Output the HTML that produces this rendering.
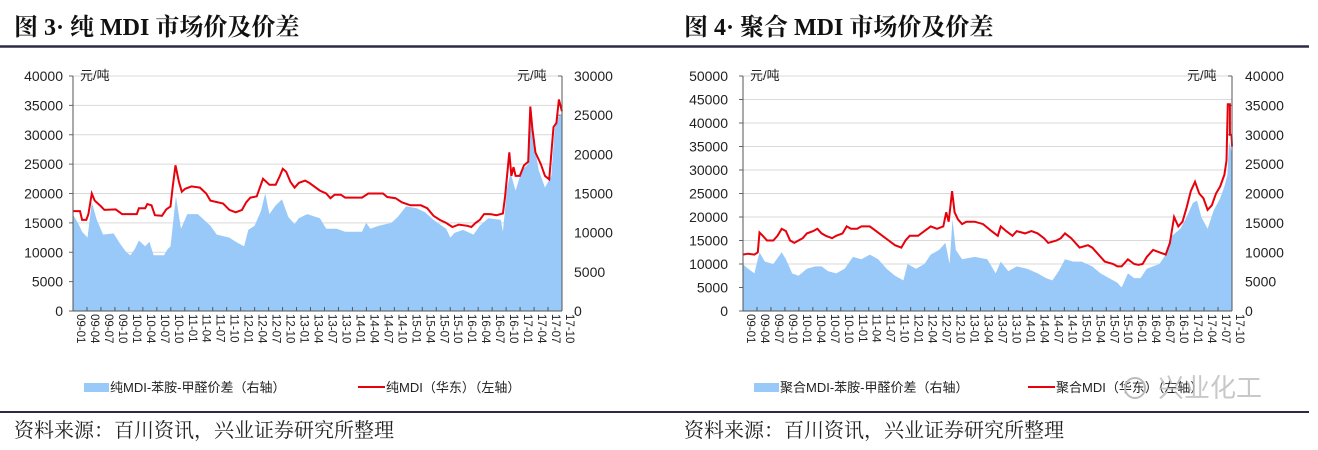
<!DOCTYPE html>
<html><head><meta charset="utf-8">
<style>
html,body{margin:0;padding:0;background:#fff;}
body{width:1318px;height:450px;overflow:hidden;position:relative;font-family:"Liberation Sans","Noto Sans CJK SC",sans-serif;}
svg{position:absolute;left:0;top:0;}
</style></head><body>
<svg id="s" width="1318" height="450" xmlns="http://www.w3.org/2000/svg">
<line x1="0" y1="46.5" x2="660" y2="46.5" stroke="#2b2b45" stroke-width="2.5"/>
<line x1="660" y1="46.5" x2="1309" y2="46.5" stroke="#2b2b45" stroke-width="2.5"/>
<line x1="0" y1="412" x2="660" y2="412" stroke="#2b2b45" stroke-width="2"/>
<line x1="660" y1="412" x2="1309" y2="412" stroke="#2b2b45" stroke-width="2"/>
<text x="14" y="35" font-family="Liberation Serif,'Noto Serif CJK SC',serif" font-size="24" font-weight="bold" fill="#111">图 3· 纯 MDI 市场价及价差</text>
<text x="684" y="35" font-family="Liberation Serif,'Noto Serif CJK SC',serif" font-size="24" font-weight="bold" fill="#111">图 4· 聚合 MDI 市场价及价差</text>
<text x="14" y="437" font-family="'Noto Serif CJK SC',serif" font-size="20" fill="#222">资料来源：百川资讯，兴业证券研究所整理</text>
<text x="684" y="437" font-family="'Noto Serif CJK SC',serif" font-size="20" fill="#222">资料来源：百川资讯，兴业证券研究所整理</text>
<g id="c1"></g><g id="c2"></g>
<text x="1158" y="397" font-family="'Noto Sans CJK SC',sans-serif" font-size="26" fill="#bbb" opacity="0.8">兴业化工</text>
<circle cx="1135" cy="388" r="10" fill="none" stroke="#bbb" stroke-width="2"/>
</svg>
<script>
var NS="http://www.w3.org/2000/svg";
function el(g,t,a,txt){var e=document.createElementNS(NS,t);for(var k in a)e.setAttribute(k,a[k]);if(txt!==undefined)e.textContent=txt;g.appendChild(e);return e;}
function chart(gid,off,fx,L,R,lmax,lstep,rmax,rstep,lx,rx,red,blue,leg1,leg2){
 var g=document.getElementById(gid),T=76,B=311,H=B-T;
 function X(zx){return off+zx/fx;}
 function Y(v){return B-v/lmax*H;}
 for(var v=0;v<=lmax;v+=lstep){var y=Y(v);
  if(v>0)el(g,"line",{x1:L,x2:R,y1:y,y2:y,stroke:"#d9d9d9","stroke-width":1});
  el(g,"line",{x1:L-4,x2:L,y1:y,y2:y,stroke:"#666"});
  el(g,"text",{x:lx,y:y+5,"text-anchor":"end","font-size":14,fill:"#222"},v);}
 for(var v=0;v<=rmax;v+=rstep){var y=B-v/rmax*H;
  el(g,"line",{x1:R-4,x2:R,y1:y,y2:y,stroke:"#666"});
  el(g,"text",{x:rx,y:y+5,"font-size":14,fill:"#222"},v);}
 var d="M"+X(blue[0])+","+B;
 for(var i=0;i<blue.length;i+=2)d+=" L"+X(blue[i]).toFixed(1)+","+Y(blue[i+1]).toFixed(1);
 d+=" L"+X(blue[blue.length-2])+","+B+" Z";
 el(g,"path",{d:d,fill:"#99c9f8"});
 var p="";
 for(var i=0;i<red.length;i+=2)p+=(i?" L":"M")+X(red[i]).toFixed(1)+","+Y(red[i+1]).toFixed(1);
 el(g,"path",{d:p,fill:"none",stroke:"#e8000b","stroke-width":2});
 el(g,"line",{x1:L,x2:L,y1:T,y2:B,stroke:"#555"});
 el(g,"line",{x1:R,x2:R,y1:T,y2:B,stroke:"#555"});
 el(g,"line",{x1:L,x2:R,y1:B,y2:B,stroke:"#555"});
 el(g,"text",{x:L+7,y:T+4,"font-size":13,fill:"#222"},"元/吨");
 el(g,"text",{x:R-45,y:T+4,"font-size":13,fill:"#222"},"元/吨");
 var labs=[];for(var yr=9;yr<=17;yr++)for(var m of ["01","04","07","10"]){labs.push((yr<10?"0":"")+yr+"-"+m);}
 var n=labs.length;
 for(var i=0;i<n;i++){var x=L+i*(R-L)/(n-1);
  el(g,"line",{x1:x,x2:x,y1:B-4,y2:B,stroke:"#555"});
  el(g,"text",{x:0,y:0,transform:"translate("+(x+4)+","+(B+3)+") rotate(90)","font-size":11.5,fill:"#222","text-anchor":"start"},labs[i]);}
 el(g,"rect",{x:L+11,y:383,width:25,height:9,fill:"#99c9f8"});
 el(g,"text",{x:L+37,y:392,"font-size":13,fill:"#222"},leg1);
 el(g,"line",{x1:L+285,x2:L+312,y1:387,y2:387,stroke:"#e8000b","stroke-width":2});
 el(g,"text",{x:L+313,y:392,"font-size":13,fill:"#222"},leg2);
}
var r1=[173,17000,190,17000,195,15500,205,15500,210,16500,218,20000,225,18800,240,17800,248,17200,275,17300,290,16500,300,16500,325,16500,330,17500,345,17500,350,18200,360,18000,368,16300,385,16200,395,17300,405,17800,410,21000,417,24800,425,22000,432,20300,440,20800,455,21200,475,21000,490,20000,500,18800,530,18300,545,17200,560,16800,575,17200,585,18500,595,19300,610,19500,625,22500,640,21500,655,21500,665,23000,672,24200,680,23700,690,22000,700,21000,710,21800,725,22200,735,21800,760,20500,775,20000,785,19200,795,19800,810,19800,820,19300,860,19300,875,20000,910,20000,920,19400,940,19200,955,18500,975,18000,1000,18000,1015,17500,1030,16200,1045,15500,1060,15000,1075,14300,1090,14700,1110,14500,1120,14300,1130,15000,1140,15500,1150,16500,1165,16500,1180,16300,1195,16600,1200,19500,1210,27000,1215,23000,1220,24500,1225,23000,1235,23000,1245,24800,1255,25400,1260,34800,1265,31000,1272,27000,1285,25000,1295,23000,1305,22400,1315,31300,1322,32000,1328,36000,1335,34000];
var b1=[173,16500,185,15000,195,13500,208,12500,218,18500,230,15500,245,13000,270,13200,285,11500,300,10000,310,9500,320,10500,330,12000,345,11000,355,11800,365,9500,390,9500,398,10500,405,11000,418,19500,430,14000,445,16500,470,16500,485,15500,500,14500,515,13000,545,12500,560,11800,580,11000,590,13800,605,14500,620,17000,630,20000,640,16500,655,18000,670,19000,685,16000,700,14800,710,15800,730,16500,760,15800,775,14000,800,14000,820,13500,860,13500,870,15000,880,14000,900,14500,930,15000,945,16000,965,17800,990,17500,1010,16800,1030,15500,1060,14000,1070,12500,1080,13300,1100,13800,1125,13000,1140,14500,1160,15800,1190,15500,1195,13500,1205,21000,1213,23500,1225,20500,1240,24000,1255,25000,1262,35000,1270,28000,1280,24000,1295,21000,1310,23000,1318,31000,1326,33000,1335,33500];
var r2=[197,12000,210,12200,225,12000,233,12500,237,16700,245,16000,255,15000,270,15000,280,16000,290,17500,300,17000,310,15000,320,14500,330,15000,340,15500,350,16500,365,17000,375,17500,385,16500,395,16000,410,15500,420,16000,435,16500,445,18000,455,17500,470,17500,480,18000,500,18000,515,17000,530,16000,545,15000,560,14000,575,13500,585,15000,595,16000,615,16000,630,17000,645,18000,660,17500,675,18000,682,21000,688,19000,696,25500,702,21000,710,19500,720,18500,730,19000,750,19000,770,18500,790,17000,805,16000,812,18000,825,17000,840,16000,850,17000,870,16500,885,17000,900,16500,915,15500,925,14500,945,15000,955,15500,965,16500,980,15500,1000,13500,1020,14000,1030,13500,1045,12000,1060,10500,1080,10000,1090,9500,1100,9500,1115,11000,1130,10000,1140,9800,1150,10000,1160,11500,1175,13000,1190,12500,1205,12000,1215,14500,1225,20000,1235,18000,1245,19000,1255,22000,1265,25500,1275,27500,1285,25000,1295,24000,1305,21500,1315,22500,1325,25000,1335,26500,1345,29000,1350,32000,1353,44000,1358,44000,1358,37500,1362,37500,1363,35000];
var b2=[197,10000,210,9000,225,8000,237,12500,250,10500,270,10000,290,12500,300,11000,315,8000,330,7500,350,9000,370,9500,385,9500,400,8500,420,8000,440,9000,460,11500,480,11000,500,12000,520,11000,540,9000,560,7500,580,6500,590,10000,610,9000,630,10000,645,12000,665,13000,680,14500,690,10000,697,19500,705,13000,720,11000,750,11500,780,11000,800,8000,812,10500,830,8500,850,9500,875,9000,900,8000,920,7000,935,6500,950,8500,965,11000,985,10500,1005,10500,1030,9500,1050,8000,1070,7000,1090,6000,1100,5000,1115,8000,1130,7000,1145,7000,1160,9000,1175,9500,1190,10000,1205,12000,1220,16000,1240,17500,1255,20000,1270,23000,1280,23500,1290,20000,1305,17500,1320,21500,1335,24000,1345,26500,1352,29000,1356,36000,1362,34000];
chart("c1",0,2.376,73,562,40000,5000,30000,5000,63,574,r1,b1,"纯MDI-苯胺-甲醛价差（右轴）","纯MDI（华东）（左轴）");
chart("c2",660,2.383,743,1232,50000,5000,40000,5000,728,1245,r2,b2,"聚合MDI-苯胺-甲醛价差（右轴）","聚合MDI（华东）（左轴）");
</script>
</body></html>
